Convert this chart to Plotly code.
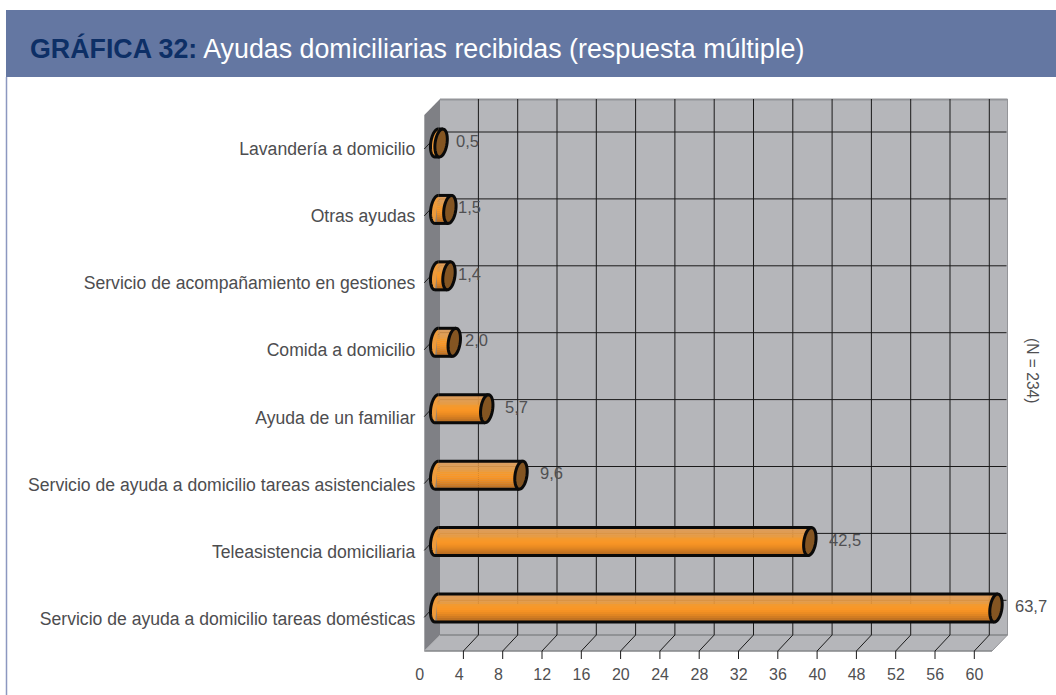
import numpy as np
import plotly.graph_objects as go

# ---- data ----
categories = ["Lavandería a domicilio", "Otras ayudas", "Servicio de acompañamiento en gestiones",
              "Comida a domicilio", "Ayuda de un familiar",
              "Servicio de ayuda a domicilio tareas asistenciales",
              "Teleasistencia domiciliaria", "Servicio de ayuda a domicilio tareas domésticas"]
values = [0.5, 1.5, 1.4, 2.0, 5.7, 9.6, 42.5, 63.7]
value_labels = ["0,5", "1,5", "1,4", "2,0", "5,7", "9,6", "42,5", "63,7"]
tick_labels = ["0", "4", "8", "12", "16", "20", "24", "28", "32", "36", "40", "48", "52", "56", "60"]
label_nudge = [13, 6, 7, 9, 16, 17, 17, 17]
band_colors = ["#e09a55", "#e29b50", "#e59c4c", "#e89b44", "#ec9a3a", "#f29a30", "#f7982a", "#f99626",
               "#f59224", "#ec8c22", "#e08522", "#d27c22", "#c27322", "#b56c22"]

W, H = 1056, 695
FONT = "Liberation Sans"
# pixel layout of the pseudo-3D box
X0, PX_PER_UNIT = 436.7, 8.78
Y0, PX_PER_ROW = 143.0, 66.43
FRONT_L, BACK_L, BACK_R, FRONT_R = 424.3, 440.0, 1007.5, 992.0
TOP, BACK_B, FRONT_B, FRONT_T = 99.0, 635.0, 651.0, 115.0
STEP = 39.3
BAR_H, CAP_RX = 28.0, 6.0
OUTLINE = 3


def xp(px): return (px - X0) / PX_PER_UNIT
def yp(px): return (px - Y0) / PX_PER_ROW
def nx(px): return px / W
def ny(px): return 1 - px / H


shapes = []
def poly(pts, fill, line=None, lw=1, layer="below"):
    shapes.append(dict(type="path", xref="paper", yref="paper", layer=layer,
                       path="M" + " L".join(f"{nx(a):.5f},{ny(b):.5f}" for a, b in pts) + " Z",
                       fillcolor=fill, line=dict(color=line or fill, width=lw if line else 0)))
def seg(a, b, c, d, color="#1a1a1a", lw=1):
    shapes.append(dict(type="line", xref="paper", yref="paper", layer="below",
                       x0=nx(a), y0=ny(b), x1=nx(c), y1=ny(d), line=dict(color=color, width=lw)))


# page chrome
poly([(6, 10), (W, 10), (W, 77), (6, 77)], "#6477a2")
seg(6.5, 77, 6.5, H, "#8c98c0", 1.5)
# box walls
poly([(BACK_L, TOP), (BACK_R, TOP), (BACK_R, BACK_B), (BACK_L, BACK_B)], "#b5b6ba")
poly([(FRONT_L, FRONT_T), (BACK_L, TOP), (BACK_L, BACK_B), (FRONT_L, FRONT_B)], "#7f8085")
poly([(FRONT_L, FRONT_B), (BACK_L, BACK_B), (BACK_R, BACK_B), (FRONT_R, FRONT_B)], "#b5b6ba")
seg(BACK_L, TOP + .5, BACK_R, TOP + .5, "#949599", 2)
seg(BACK_R, TOP, BACK_R, BACK_B, "#949599", 1)
seg(BACK_L, BACK_B, BACK_R, BACK_B, "#858689", 1.5)
seg(FRONT_L, FRONT_B, FRONT_R, FRONT_B, "#858689", 1.5)
seg(BACK_R, BACK_B, FRONT_R, FRONT_B, "#949599", 1)
seg(FRONT_L, FRONT_B, BACK_L, BACK_B, "#a5a6a9", 1)
# grid
for i in range(1, 15):
    gx = BACK_L - 0.9 + STEP * i
    seg(gx, TOP, gx, BACK_B)
    seg(gx, BACK_B, gx - 15, FRONT_B)
    seg(gx - 15, FRONT_B, gx - 15, FRONT_B + 8)
for i in range(8):
    gy = 132 + 66.9 * i
    seg(BACK_L, gy, BACK_R - 1, gy)
    seg(BACK_L, gy, FRONT_L, gy + 17)

fig = go.Figure()
rows = list(range(len(categories)))
h = BAR_H / PX_PER_ROW
for k, c in enumerate(band_colors):
    fig.add_trace(go.Bar(x=values, y=rows, orientation="h", base=0, width=h / len(band_colors) * 1.15,
                         offset=-h / 2 + k * h / len(band_colors),
                         marker=dict(color=c, line=dict(width=0)),
                         opacity=0.9 if k < 5 else 1, showlegend=False, hoverinfo="skip"))


def ellipse(cx, cy, t0=0, t1=2 * np.pi, n=40, tilt=0.12):
    t = np.linspace(t0, t1, n)
    ex, ey = CAP_RX * np.cos(t), BAR_H / 2 * np.sin(t)
    return ex - tilt * ey + cx, ey + cy


def data_path(px, py, close):
    s = "M" + " L".join(f"{xp(a):.4f},{yp(b):.4f}" for a, b in zip(px, py))
    return s + (" Z" if close else "")


for v, r in zip(values, rows):
    cy = Y0 + r * PX_PER_ROW
    ex = X0 + v * PX_PER_UNIT
    lx, ly = ellipse(X0, cy, np.pi / 2, 3 * np.pi / 2)
    shapes.append(dict(type="path", xref="x", yref="y", layer="above", path=data_path(lx, ly, False),
                       fillcolor="#ee9a3a", line=dict(color="#0a0a0a", width=OUTLINE)))
    for sign in (-1, 1):
        shapes.append(dict(type="line", xref="x", yref="y", layer="above",
                           x0=xp(X0 - sign * 1.7), y0=yp(cy + sign * BAR_H / 2),
                           x1=xp(ex - sign * 1.7), y1=yp(cy + sign * BAR_H / 2),
                           line=dict(color="#0a0a0a", width=OUTLINE)))
    rx, ry = ellipse(ex, cy)
    shapes.append(dict(type="path", xref="x", yref="y", layer="above", path=data_path(rx, ry, True),
                       fillcolor="#845522", line=dict(color="#0a0a0a", width=OUTLINE)))

annotations = [
    dict(x=v, y=r, xref="x", yref="y", text=t, showarrow=False, xanchor="left", xshift=n,
         yshift=2, font=dict(family=FONT, size=16.5, color="#505052"))
    for v, r, t, n in zip(values, rows, value_labels, label_nudge)
]
annotations += [
    dict(x=nx(28), y=ny(48.5), xref="paper", yref="paper", xanchor="left", yanchor="middle", showarrow=False,
         text='<b><span style="color:#0d2f66">GRÁFICA 32:</span></b> Ayudas domiciliarias recibidas (respuesta múltiple)',
         font=dict(family=FONT, size=26.8, color="white")),
    dict(x=nx(1033), y=ny(370), xref="paper", yref="paper", showarrow=False, textangle=90,
         xanchor="center", yanchor="middle",
         text="(N = 234)", font=dict(family=FONT, size=15.6, color="#505052")),
]

# tick-label positions: on the box's front edge, single digits sit slightly left of the tick
tick_px = [FRONT_L + STEP * i - (4.5 if len(t) == 1 else 0) for i, t in enumerate(tick_labels)]
# category labels run on a slightly wider pitch than the bars
cat_px = [149 + 67.1 * r for r in rows]

fig.update_layout(
    width=W, height=H, margin=dict(l=0, r=0, t=0, b=0), paper_bgcolor="white", plot_bgcolor="rgba(0,0,0,0)",
    barmode="overlay", showlegend=False, shapes=shapes, annotations=annotations,
    font=dict(family=FONT, color="#4d4d4f", size=15),
    xaxis=dict(domain=[0, 1], range=[xp(0), xp(W)], showgrid=False, zeroline=False, showline=False,
               tickmode="array", tickvals=[xp(p) for p in tick_px], ticktext=tick_labels, ticks="",
               anchor="free", position=ny(FRONT_B + 12), fixedrange=True,
               tickfont=dict(family=FONT, size=16, color="#505052")),
    yaxis=dict(domain=[0, 1], range=[yp(H), yp(0)], showgrid=False, zeroline=False, showline=False,
               tickmode="array", tickvals=[yp(p) for p in cat_px], ticktext=categories, ticks="",
               anchor="free", position=nx(FRONT_L - 9), fixedrange=True,
               tickfont=dict(family=FONT, size=17.6, color="#4d4d4f")),
)
fig.write_html("out.html", config={"displayModeBar": False},
               post_script="document.body.style.margin='0';document.body.style.overflow='hidden';")
